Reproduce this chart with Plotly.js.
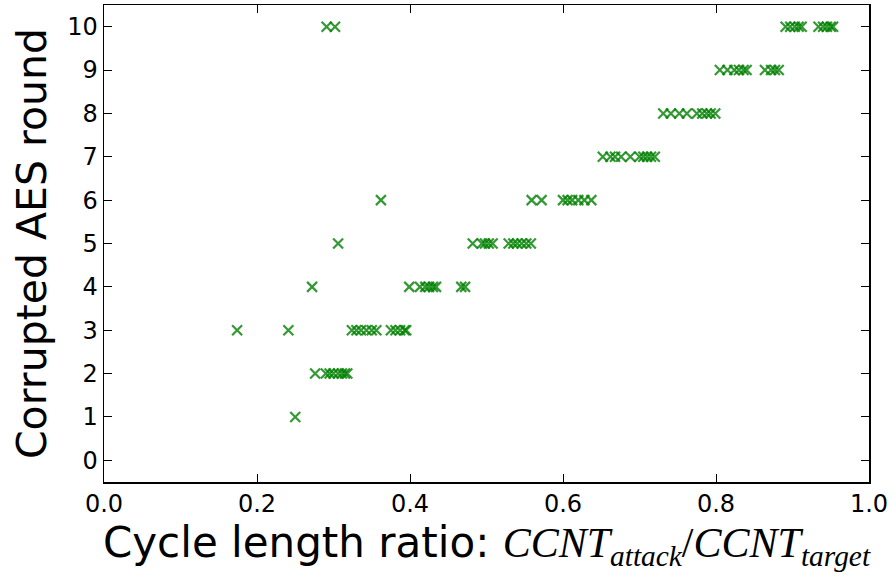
<!DOCTYPE html>
<html>
<head>
<meta charset="utf-8">
<script src="https://cdn.plot.ly/plotly-3.0.1.min.js"></script>
<style>html,body{margin:0;padding:0;background:#fff;}#chart{width:893px;height:573px;}</style>
</head>
<body>
<div id="chart"></div>
<script>
// Cycle length ratio values observed for each corrupted AES round
const round1 = [0.250];
const round2 = [0.276, 0.290, 0.295, 0.300, 0.306, 0.311, 0.315, 0.318];
const round3 = [0.174, 0.241, 0.324, 0.330, 0.336, 0.343, 0.350, 0.356, 0.375, 0.381, 0.387, 0.393, 0.395];
const round4 = [0.272, 0.399, 0.413, 0.420, 0.425, 0.430, 0.434, 0.467, 0.472];
const round5 = [0.306, 0.482, 0.494, 0.498, 0.503, 0.508, 0.529, 0.535, 0.540, 0.546, 0.552, 0.558];
const round6 = [0.362, 0.559, 0.572, 0.600, 0.606, 0.612, 0.620, 0.628, 0.637];
const round7 = [0.652, 0.662, 0.668, 0.676, 0.688, 0.700, 0.705, 0.710, 0.715, 0.720];
const round8 = [0.731, 0.741, 0.752, 0.762, 0.775, 0.782, 0.788, 0.793, 0.799];
const round9 = [0.805, 0.815, 0.824, 0.830, 0.836, 0.840, 0.864, 0.872, 0.877, 0.882];
const round10 = [0.291, 0.302, 0.891, 0.897, 0.903, 0.908, 0.912, 0.934, 0.940, 0.945, 0.950, 0.953];
const roundNumbers = [1, 2, 3, 4, 5, 6, 7, 8, 9, 10];
const xTickVals = [0.0, 0.2, 0.4, 0.6, 0.8, 1.0];
const yTickVals = [0, 1, 2, 3, 4, 5, 6, 7, 8, 9, 10];

const allRounds = [round1, round2, round3, round4, round5, round6, round7, round8, round9, round10];
const xs = [], ys = [];
allRounds.forEach((arr, i) => { arr.forEach(v => { xs.push(v); ys.push(roundNumbers[i]); }); });

const trace = {
  x: xs, y: ys, type: 'scatter', mode: 'markers',
  marker: {symbol: 'x-thin-open', size: 10, color: '#008000', opacity: 0.8,
           line: {color: '#008000', width: 2.2}},
  hoverinfo: 'x+y'
};

const xTitle = 'Cycle length ratio: ' +
  '<span style="font-family:Liberation Serif"><i>CCNT</i><sub><i>attack</i></sub>/<i>CCNT</i><sub><i>target</i></sub></span>';

const layout = {
  width: 893, height: 573,
  margin: {l: 104, r: 24, t: 5, b: 91},
  paper_bgcolor: '#fff', plot_bgcolor: '#fff',
  showlegend: false,
  font: {family: "'DejaVu Sans', sans-serif", color: '#000', size: 24},
  xaxis: {
    range: [0, 1], tickvals: xTickVals, tickformat: '.1f',
    showgrid: false, zeroline: false,
    showline: true, linecolor: '#000', linewidth: 1.5, mirror: 'ticks',
    ticks: 'inside', ticklen: 8, tickwidth: 1, tickcolor: '#000',
    tickfont: {size: 24, family: "'DejaVu Sans', sans-serif", color: '#000'},
    title: {text: xTitle, font: {size: 42, family: "'DejaVu Sans', sans-serif", color: '#000'}, standoff: 4}
  },
  yaxis: {
    range: [-0.5, 10.5], tickvals: yTickVals,
    showgrid: false, zeroline: false,
    showline: true, linecolor: '#000', linewidth: 1.5, mirror: 'ticks',
    ticks: 'inside', ticklen: 8, tickwidth: 1, tickcolor: '#000',
    tickfont: {size: 24, family: "'DejaVu Sans', sans-serif", color: '#000'},
    title: {text: 'Corrupted AES round', font: {size: 41, family: "'DejaVu Sans', sans-serif", color: '#000'}, standoff: 8}
  }
};

Plotly.newPlot('chart', [trace], layout, {displayModeBar: false, staticPlot: true});
</script>
</body>
</html>
